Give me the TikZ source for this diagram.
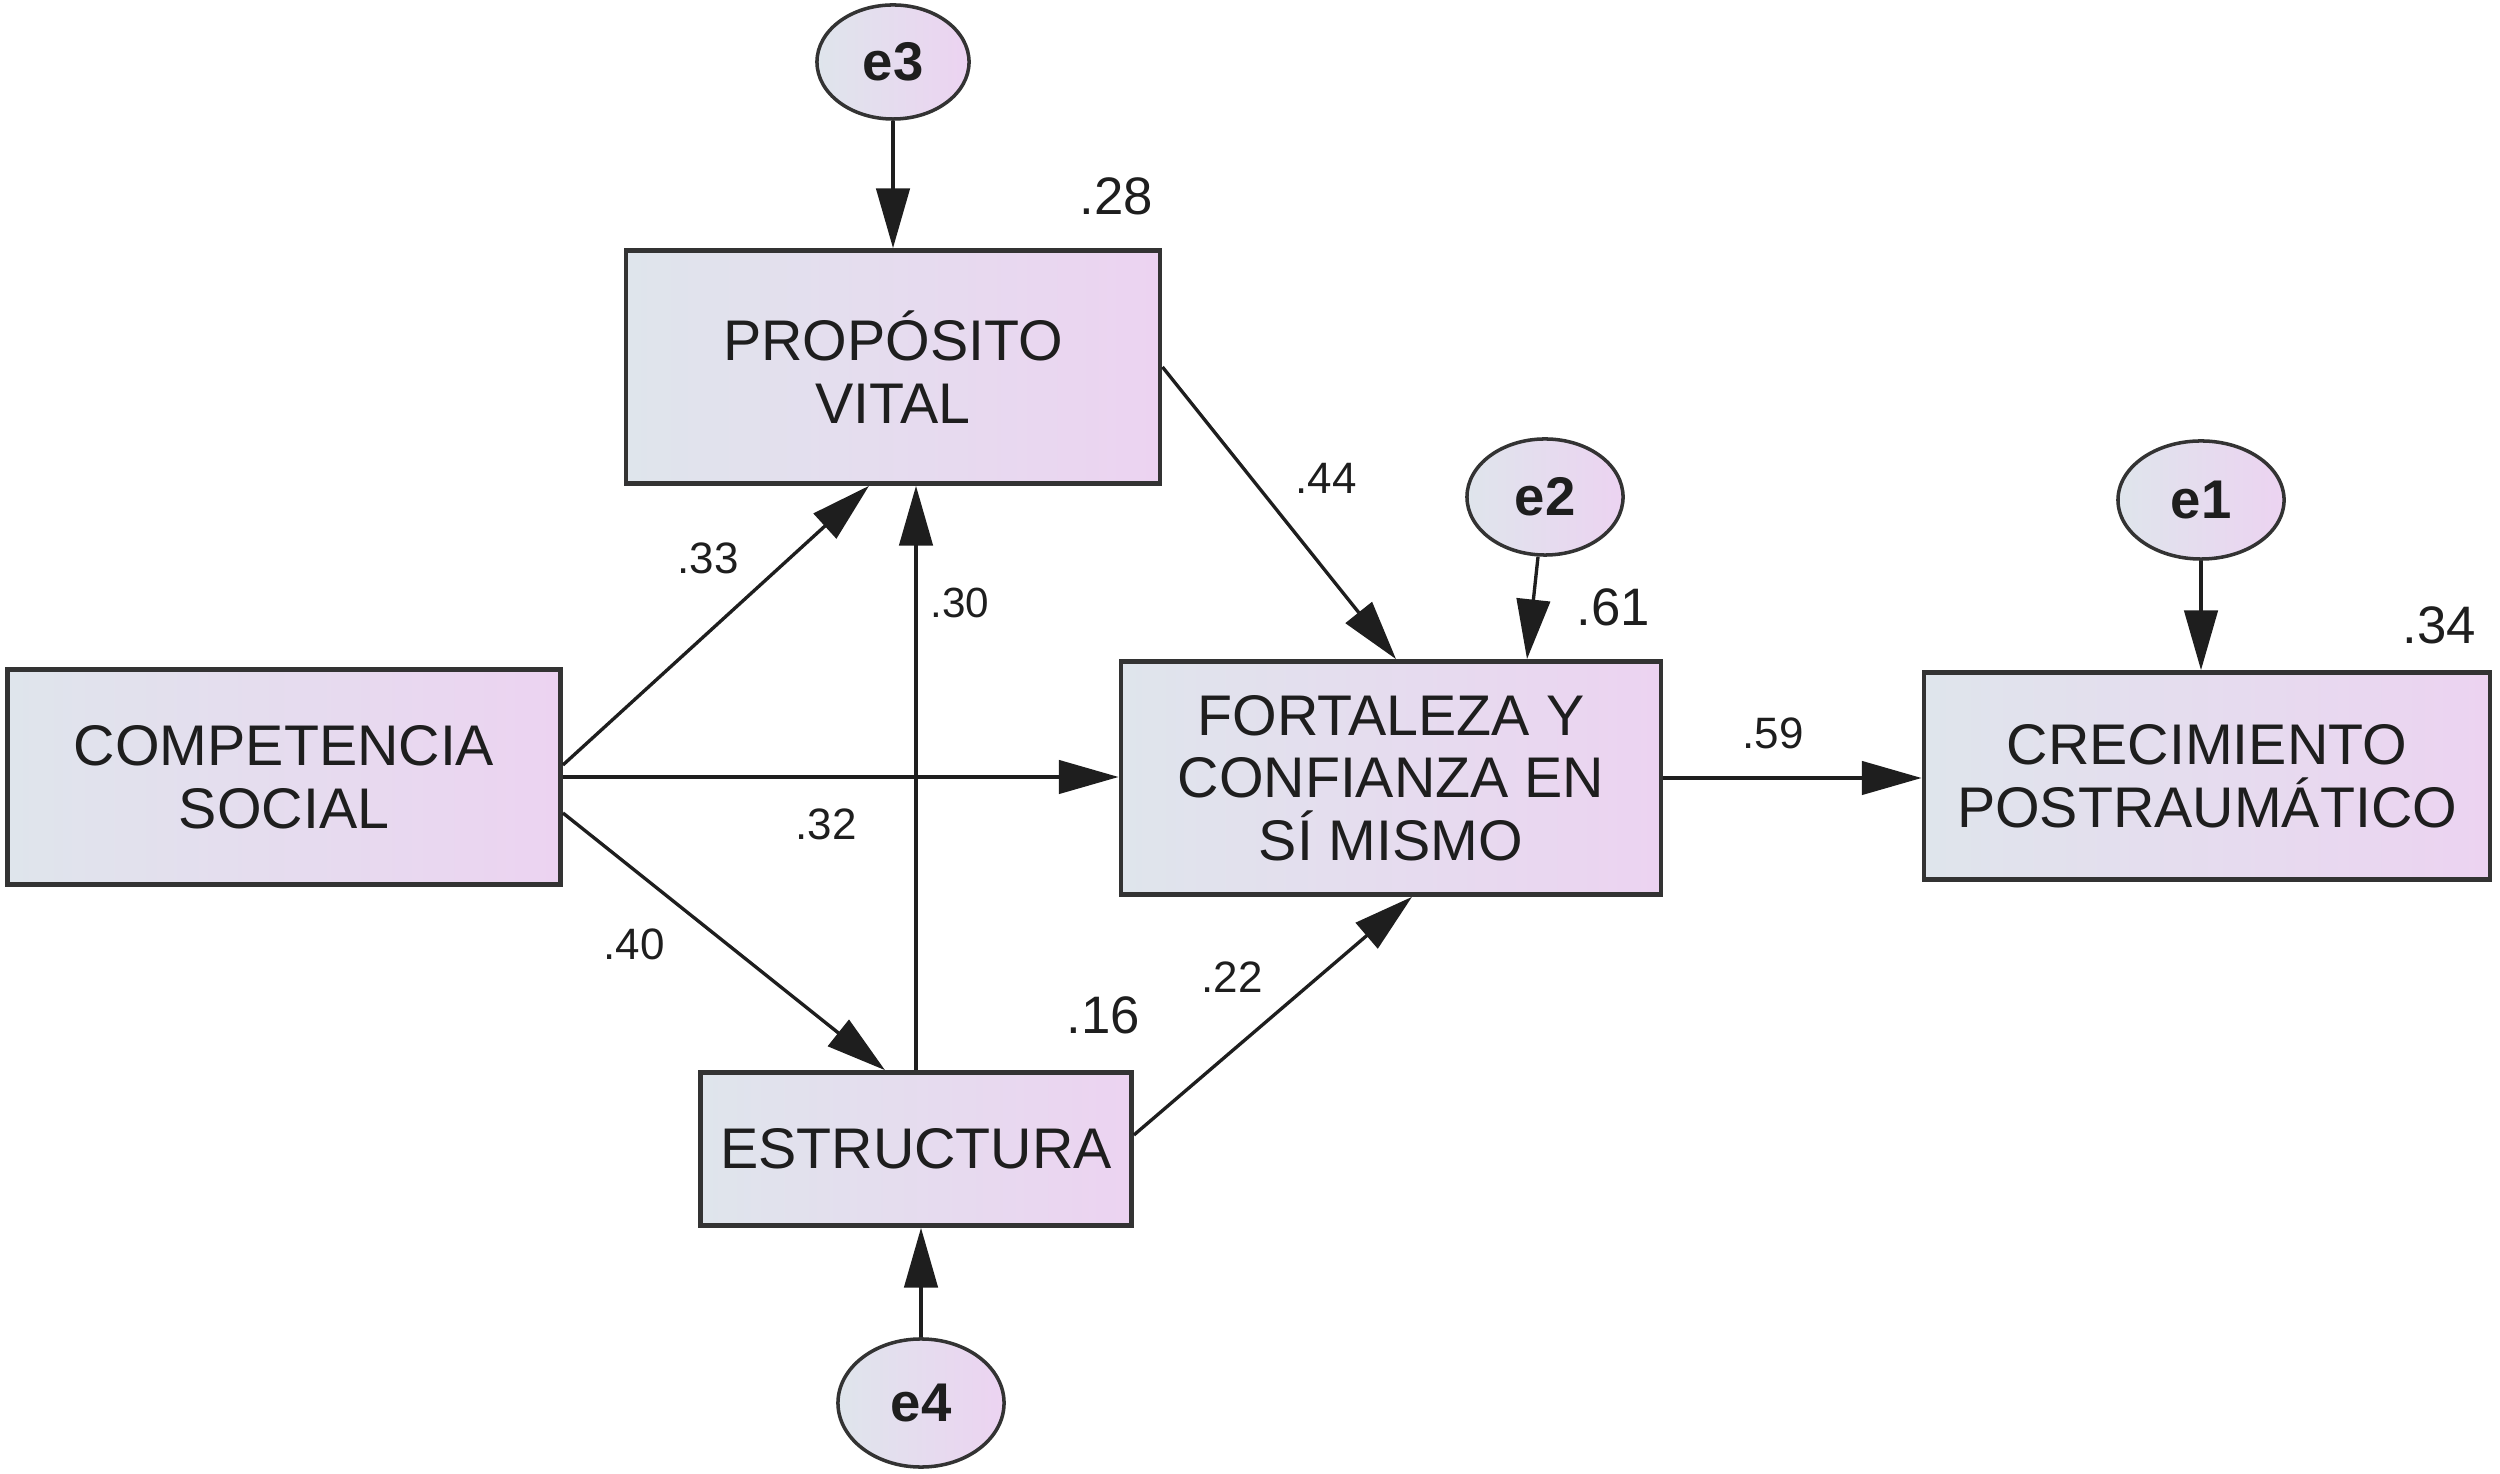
\documentclass[tikz,border=0pt]{standalone}
\usepackage{fontspec}
\setmainfont{Liberation Sans}
\usetikzlibrary{arrows.meta,calc,shapes.geometric}
\definecolor{boxline}{HTML}{333333}
\definecolor{boxleft}{HTML}{DFE5EC}
\definecolor{boxright}{HTML}{ECD3F1}
\definecolor{ink}{HTML}{1E1E1E}
\tikzset{
    every picture/.style={line join=miter},
    varbox/.style={draw=boxline,line width=1.3pt,left color=boxleft,right color=boxright,
      inner sep=2pt,align=center,text=ink,font=\fontsize{16.3}{17.8}\selectfont},
    errnode/.style={ellipse,draw=boxline,line width=1pt,left color=boxleft,
      right color=boxright,inner sep=0pt,text=ink,font=\fontsize{15.5}{17}\selectfont\bfseries},
    patharrow/.style={-{Triangle[length=17pt,width=9.5pt]},draw=ink,line width=0.95pt},
    coeflabel/.style={inner sep=1pt,text=ink,font=\fontsize{12.5}{14}\selectfont},
    rsqlabel/.style={inner sep=1pt,text=ink,font=\fontsize{15}{17}\selectfont}
}

\begin{document}
\begin{tikzpicture}[x=0.01cm,y=-0.01cm]
  \useasboundingbox (0,0) rectangle (2500,1474);
  % observed variables
  \node[varbox,minimum width=5.53cm,minimum height=2.15cm] (comp) at (284,777)
    {COMPETENCIA\\SOCIAL};
  \node[varbox,minimum width=5.34cm,minimum height=2.33cm] (prop) at (893,367)
    {PROPÓSITO\\VITAL};
  \node[varbox,minimum width=5.40cm,minimum height=2.33cm] (fort) at (1391,778)
    {FORTALEZA Y\\CONFIANZA EN\\SÍ MISMO};
  \node[varbox,minimum width=5.66cm,minimum height=2.07cm] (crec) at (2207,776)
    {CRECIMIENTO\\POSTRAUMÁTICO};
  \node[varbox,minimum width=4.31cm,minimum height=1.53cm] (estr) at (916,1149)
    {ESTRUCTURA};
  % error terms
  \node[errnode,minimum width=1.52cm,minimum height=1.14cm] (e3) at (893,62) {e3};
  \node[errnode,minimum width=1.56cm,minimum height=1.16cm] (e2) at (1545,497) {e2};
  \node[errnode,minimum width=1.66cm,minimum height=1.18cm] (e1) at (2201,500) {e1};
  \node[errnode,minimum width=1.66cm,minimum height=1.28cm] (e4) at (921,1403) {e4};
  % paths
  \draw[patharrow] ($(comp.east)+(0,-12)$) -- ($(prop.south)+(-24,0)$);
  \draw[patharrow] (comp.east) -- (comp.east -| fort.west);
  \draw[patharrow] ($(comp.east)+(0,36)$) -- ($(estr.north)+(-31,0)$);
  \draw[patharrow] (estr.north) -- (estr.north |- prop.south);
  \draw[patharrow] (prop.east) -- ($(fort.north)+(5,0)$);
  \draw[patharrow] ($(estr.east)+(0,-14)$) -- ($(fort.south)+(21,0)$);
  \draw[patharrow] (fort.east) -- (fort.east -| crec.west);
  \draw[patharrow] (e3) -- (prop.north);
  \draw[patharrow] ($(e2.south)+(-7,0)$) -- ($(fort.north)+(136,0)$);
  \draw[patharrow] (e1) -- (e1.south |- crec.north);
  \draw[patharrow] (e4) -- (e4.north |- estr.south);
  % coefficients
  \node[coeflabel] (c33) at (708,558) {.33};
  \node[coeflabel,font=\fontsize{12}{14}\selectfont] (c30) at (960,603) {.30};
  \node[coeflabel] (c44) at (1326,478) {.44};
  \node[coeflabel] (c32) at (826,824) {.32};
  \node[coeflabel] (c40) at (634,944) {.40};
  \node[coeflabel] (c22) at (1232,977) {.22};
  \node[coeflabel] (c59) at (1773,733) {.59};
  % explained variance
  \node[rsqlabel] (r28) at (1116,196) {.28};
  \node[rsqlabel] (r61) at (1613,607) {.61};
  \node[rsqlabel] (r34) at (2439,625) {.34};
  \node[rsqlabel] (r16) at (1103,1015) {.16};
\end{tikzpicture}
\end{document}
